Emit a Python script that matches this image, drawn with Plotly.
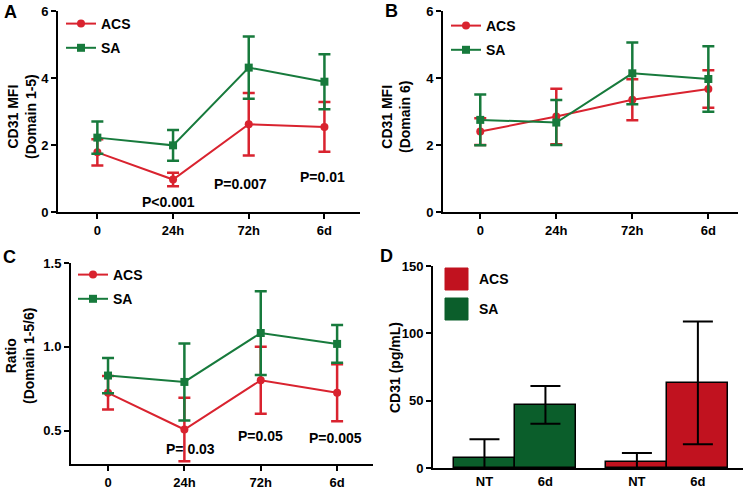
import plotly.graph_objects as go

W, H = 750, 492
def px(x): return x / W
def py(y): return 1 - y / H

# ---------------- data ----------------
cats = ["0", "24h", "72h", "6d"]
a_acs = [1.78, 0.97, 2.62, 2.54]
a_acs_err = [0.39, 0.20, 0.93, 0.74]
a_sa = [2.22, 1.99, 4.31, 3.89]
a_sa_err = [0.48, 0.46, 0.93, 0.82]

b_acs = [2.40, 2.85, 3.35, 3.67]
b_acs_err = [0.40, 0.83, 0.61, 0.56]
b_sa = [2.75, 2.67, 4.14, 3.97]
b_sa_err = [0.76, 0.67, 0.92, 0.98]

c_acs = [0.725, 0.506, 0.80, 0.725]
c_acs_err = [0.10, 0.19, 0.20, 0.17]
c_sa = [0.828, 0.79, 1.082, 1.017]
c_sa_err = [0.105, 0.23, 0.25, 0.113]

d_labels = ["NT", "6d"]
d_sa = [7.4, 46.9]
d_sa_err = [14.0, 14.0]
d_acs = [4.2, 63.2]
d_acs_err = [7.0, 45.5]

pvals_a = ["P<0.001", "P=0.007", "P=0.01"]
pvals_c = ["P= 0.03", "P=0.05", "P=0.005"]

RED = "#d9232f"
GREEN = "#177a3c"
BAR_RED = "#c1121f"
BAR_GREEN = "#0b5e2b"
FONT = "Arial, 'Liberation Sans', sans-serif"

fig = go.Figure()
xi = list(range(len(cats)))

def add_lines(xa, ya, acs, acs_err, sa, sa_err, leg):
    fig.add_trace(go.Scatter(
        x=xi, y=acs, mode="lines+markers", name="ACS",
        line=dict(color=RED, width=2),
        marker=dict(symbol="circle", size=8, color=RED),
        error_y=dict(type="data", array=acs_err, color=RED, thickness=2.5, width=6),
        xaxis=xa, yaxis=ya, legend=leg, legendgroup=leg + "acs"))
    fig.add_trace(go.Scatter(
        x=xi, y=sa, mode="lines+markers", name="SA",
        line=dict(color=GREEN, width=2),
        marker=dict(symbol="square", size=8, color=GREEN),
        error_y=dict(type="data", array=sa_err, color=GREEN, thickness=2.5, width=6),
        xaxis=xa, yaxis=ya, legend=leg, legendgroup=leg + "sa"))

add_lines("x", "y", a_acs, a_acs_err, a_sa, a_sa_err, "legend")
add_lines("x2", "y2", b_acs, b_acs_err, b_sa, b_sa_err, "legend2")
add_lines("x3", "y3", c_acs, c_acs_err, c_sa, c_sa_err, "legend3")

# Panel D bars: SA group then ACS group
group_start = [0.0, 2.5]
d_x_sa = [group_start[0] + i for i in range(len(d_labels))]
d_x_acs = [group_start[1] + i for i in range(len(d_labels))]
fig.add_trace(go.Bar(
    x=d_x_sa, y=d_sa, width=1, name="SA", showlegend=False,
    marker=dict(color=BAR_GREEN, line=dict(color="black", width=1.5)),
    error_y=dict(type="data", array=d_sa_err, color="black", thickness=2, width=15),
    xaxis="x4", yaxis="y4"))
fig.add_trace(go.Bar(
    x=d_x_acs, y=d_acs, width=1, name="ACS", showlegend=False,
    marker=dict(color=BAR_RED, line=dict(color="black", width=1.5)),
    error_y=dict(type="data", array=d_acs_err, color="black", thickness=2, width=15),
    xaxis="x4", yaxis="y4"))

axis_common = dict(showline=True, linewidth=2, linecolor="black", showgrid=False,
                   zeroline=False, ticks="outside", ticklen=5, tickwidth=2,
                   tickcolor="black", tickfont=dict(size=13, weight="bold"),
                   automargin=False)

def xax(d0, d1, rng, anchor, tickvals, ticktext, ticks="outside"):
    a = dict(axis_common)
    a.update(domain=[px(d0), px(d1)], range=rng, anchor=anchor,
             tickmode="array", tickvals=tickvals, ticktext=ticktext, ticks=ticks)
    return a

def yax(t0, t1, rng, anchor, tickvals, ticktext):
    a = dict(axis_common)
    a.update(domain=[py(t1), py(t0)], range=rng, anchor=anchor,
             tickmode="array", tickvals=tickvals, ticktext=ticktext)
    return a

d_tickvals = d_x_sa + d_x_acs
d_ticktext = d_labels + d_labels

layout = dict(
    width=W, height=H, margin=dict(l=0, r=0, t=0, b=0, autoexpand=False),
    paper_bgcolor="white", plot_bgcolor="white",
    font=dict(family=FONT, size=13, color="black", weight="bold"),
    bargap=0,
    xaxis=xax(58, 360, [-0.52, 3.47], "y", xi, cats),
    yaxis=yax(11, 212, [0, 6], "x", [0, 2, 4, 6], ["0", "2", "4", "6"]),
    xaxis2=xax(443, 738, [-0.49, 3.39], "y2", xi, cats),
    yaxis2=yax(11, 212, [0, 6], "x2", [0, 2, 4, 6], ["0", "2", "4", "6"]),
    xaxis3=xax(71, 373, [-0.485, 3.47], "y3", xi, cats),
    yaxis3=yax(263, 464, [0.3, 1.5], "x3", [0.5, 1.0, 1.5], ["0.5", "1.0", "1.5"]),
    xaxis4=xax(433, 743, [-0.844, 4.24], "y4", d_tickvals, d_ticktext, ticks=""),
    yaxis4=yax(266, 468, [0, 150], "x4", [0, 50, 100, 150], ["0", "50", "100", "150"]),
)

leg_common = dict(font=dict(size=14, weight="bold"), bgcolor="rgba(0,0,0,0)",
                  traceorder="grouped", tracegroupgap=3,
                  xanchor="left", yanchor="top", itemwidth=30)
layout["legend"] = dict(leg_common, x=px(61), y=py(8))
layout["legend2"] = dict(leg_common, x=px(446), y=py(10))
layout["legend3"] = dict(leg_common, x=px(73), y=py(259))
fig.update_layout(**layout)

ann = []
# panel letters
for letter, (x, y) in zip("ABCD", [(10, 12), (391, 11), (9, 257), (386, 256)]):
    ann.append(dict(text=letter, x=px(x), y=py(y), xref="paper", yref="paper",
                    showarrow=False, font=dict(size=18, weight="bold"),
                    xanchor="center", yanchor="middle"))
# y titles
for text, (x, y) in zip(["CD31 MFI<br>(Domain 1-5)", "CD31 MFI<br>(Domain 6)",
                         "Ratio<br>(Domain 1-5/6)", "CD31 (pg/mL)"],
                        [(22, 117), (396, 117), (20, 356), (395, 367)]):
    ann.append(dict(text=text, x=px(x), y=py(y), xref="paper", yref="paper",
                    showarrow=False, textangle=-90, font=dict(size=14, weight="bold"),
                    xanchor="center", yanchor="middle"))
# p-values
for text, (x, y) in zip(pvals_a, [(168, 202), (240, 184), (322, 177)]):
    ann.append(dict(text=text, x=px(x), y=py(y), xref="paper", yref="paper",
                    showarrow=False, font=dict(size=14, weight="bold"),
                    xanchor="center", yanchor="middle"))
for text, (x, y) in zip(pvals_c, [(190, 449), (260, 436), (335, 438)]):
    ann.append(dict(text=text, x=px(x), y=py(y), xref="paper", yref="paper",
                    showarrow=False, font=dict(size=14, weight="bold"),
                    xanchor="center", yanchor="middle"))
# panel D legend
shapes = []
for name, col, cy in [("ACS", BAR_RED, 279), ("SA", BAR_GREEN, 309)]:
    shapes.append(dict(type="rect", xref="paper", yref="paper",
                       x0=px(445), x1=px(468), y0=py(cy + 11), y1=py(cy - 11),
                       fillcolor=col, line=dict(color=col, width=1)))
    ann.append(dict(text=name, x=px(477), y=py(cy), xref="paper", yref="paper",
                    showarrow=False, font=dict(size=14, weight="bold"),
                    xanchor="left", yanchor="middle"))
fig.update_layout(annotations=ann, shapes=shapes)

fig.write_html("out.html", config={"displayModeBar": False},
               post_script="document.body.style.margin='0';"
                           "document.body.style.overflow='hidden';")
